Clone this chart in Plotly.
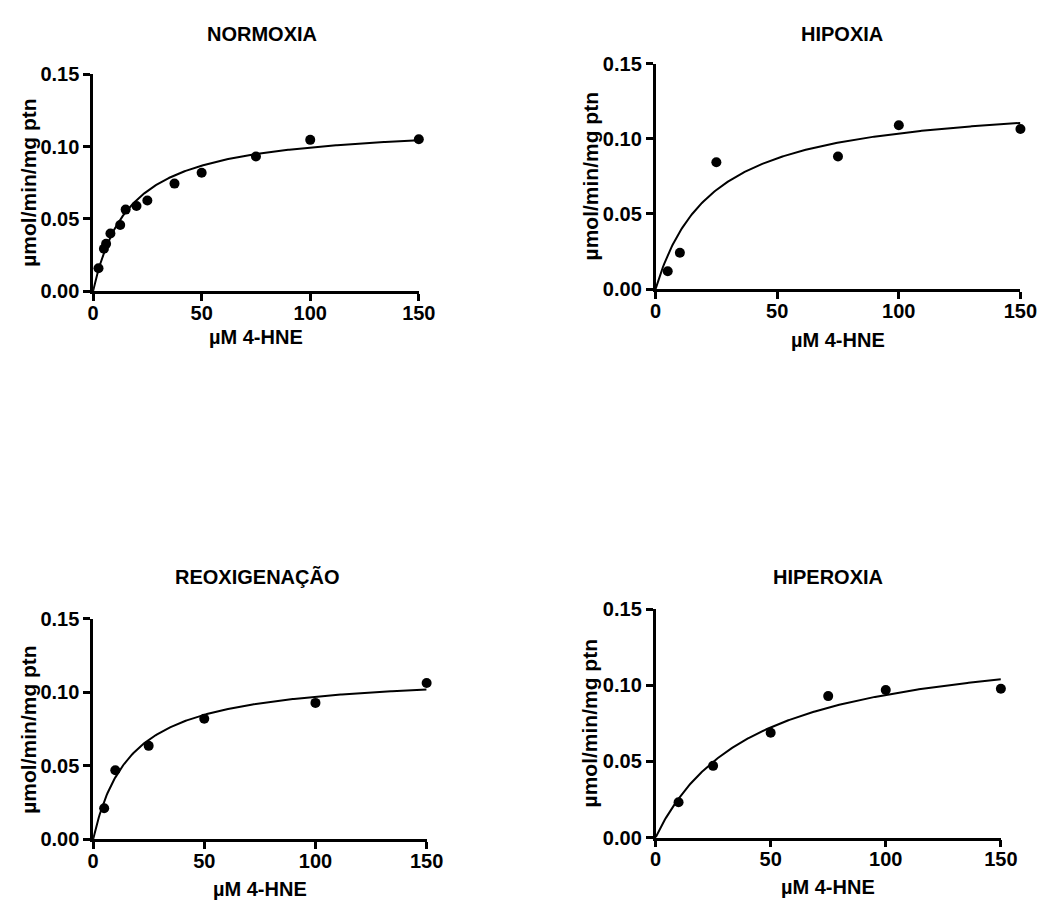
import numpy as np
import plotly.graph_objects as go

W, H = 1057, 911

# ---- data ----
titles = ["NORMOXIA", "HIPOXIA", "REOXIGENAÇÃO", "HIPEROXIA"]

normoxia_x = [2.5, 5, 6, 8, 12.5, 15, 20, 25, 37.5, 50, 75, 100, 150]
normoxia_y = [0.0158, 0.0293, 0.0327, 0.0399, 0.0458, 0.0564, 0.0589, 0.0627, 0.0744, 0.0819, 0.0932, 0.1047, 0.1051]

hipoxia_x = [5, 10, 25, 75, 100, 150]
hipoxia_y = [0.0119, 0.0242, 0.0844, 0.0883, 0.1090, 0.1065]

reoxi_x = [5, 10, 25, 50, 100, 150]
reoxi_y = [0.0212, 0.0471, 0.0637, 0.0821, 0.0929, 0.1064]

hiperoxia_x = [10, 25, 50, 75, 100, 150]
hiperoxia_y = [0.0232, 0.0471, 0.0688, 0.0929, 0.0969, 0.0978]

# Michaelis-Menten fit parameters (Vmax, Km)
vmax = [0.1162, 0.1279, 0.1135, 0.1330]
km = [16.9, 23.45, 16.9, 41.9]

x_ticks = [0, 50, 100, 150]
y_ticks = [0.0, 0.05, 0.10, 0.15]
y_ticktext = ["0.00", "0.05", "0.10", "0.15"]
x_title = "µM 4-HNE"
y_title = "µmol/min/mg ptn"

# ---- layout geometry (pixels) ----
# plot areas: (left, right, top, bottom)
boxes = [(89, 422, 65, 287), (664, 1037, 54, 285), (89, 430, 623, 849), (664, 1017, 613, 847)]
title_x = [262, 855, 257, 840]
title_y = [24, 24, 580, 580]
xtitle_y = [334, 337, 900, 898]
ytitle_x = [23.5, 597, 23, 596]

series = [(normoxia_x, normoxia_y), (hipoxia_x, hipoxia_y), (reoxi_x, reoxi_y), (hiperoxia_x, hiperoxia_y)]

fig = go.Figure()
FONT = "Liberation Sans, Arial, sans-serif"
annotations = []

for i, ((xs, ys), (l, r, t, b)) in enumerate(zip(series, boxes)):
    n = "" if i == 0 else str(i + 1)
    xa, ya = "x" + n, "y" + n
    xc = np.linspace(0, 150, 300)
    yc = vmax[i] * xc / (km[i] + xc)
    fig.add_trace(go.Scatter(x=xc, y=yc, mode="lines", line=dict(color="black", width=2),
                             xaxis=xa, yaxis=ya, showlegend=False, hoverinfo="skip", cliponaxis=False))
    fig.add_trace(go.Scatter(x=xs, y=ys, mode="markers", marker=dict(color="black", size=10),
                             xaxis=xa, yaxis=ya, showlegend=False, cliponaxis=False))
    axcommon = dict(showline=True, linecolor="black", linewidth=2.5, ticks="outside", ticklen=7,
                    tickwidth=2.5, tickcolor="black", showgrid=False, zeroline=False,
                    tickfont=dict(family=FONT, size=20, color="black", weight="bold"))
    fig.update_layout(**{
        ("xaxis" + n): dict(domain=[l / W, r / W], range=[0, 150], tickvals=x_ticks,
                            anchor=ya, ticklabelstandoff=-5, **axcommon),
        ("yaxis" + n): dict(domain=[1 - b / H, 1 - t / H], range=[0, 0.15], tickvals=y_ticks,
                            ticktext=y_ticktext, anchor=xa, **axcommon),
    })
    cx = (l + r) / 2 / W
    annotations.append(dict(text=titles[i], x=title_x[i] / W, y=1 - title_y[i] / H, xref="paper",
                            yref="paper", xanchor="center", yanchor="middle", showarrow=False,
                            font=dict(family=FONT, size=20, color="black", weight="bold")))
    annotations.append(dict(text=x_title, x=cx, y=1 - xtitle_y[i] / H, xref="paper", yref="paper",
                            xanchor="center", yanchor="middle", showarrow=False,
                            font=dict(family=FONT, size=20, color="black", weight="bold")))
    annotations.append(dict(text=y_title, x=ytitle_x[i] / W, y=1 - (t + b) / 2 / H, xref="paper",
                            yref="paper", xanchor="center", yanchor="middle", textangle=-90,
                            showarrow=False,
                            font=dict(family=FONT, size=21, color="black", weight="bold")))

fig.update_layout(width=W, height=H, margin=dict(l=0, r=0, t=0, b=0),
                  paper_bgcolor="white", plot_bgcolor="white", annotations=annotations,
                  font=dict(family=FONT, color="black"))
fig.write_html("out.html")
